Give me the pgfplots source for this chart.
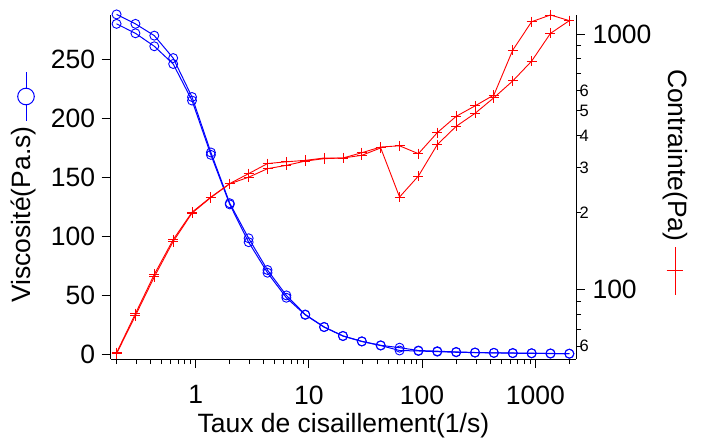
\documentclass[border=0pt]{standalone}
\usepackage{pgfplots}
\pgfplotsset{compat=1.18}
\usepackage{pgfplotstable}
\usepackage{fontspec}
\setmainfont{Liberation Sans}

\pgfplotstableread{
x       vA     vB     sA     sB
0.2     288    280    56.5   56.0
0.2936  280    272    80.4   79.0
0.4309  270    261    114.5  112
0.6325  251    246    156.6  154
0.9283  218    215    200.6  199
1.3626  171    169    230    229
2       128    127    259.7  259
2.936   98.3   95.0   284    275
4.309   71.4   69.1   311    297
6.325   49.9   47.9   316    306
9.283   33.7   33.4   320    318
13.626  23.2   23.0   327    325
20      15.6   15.4   327    327
29.36   11.0   10.8   343    335
43.09   7.6    7.4    361    358
63.25   5.6    3.2    365    230
92.83   3.2    2.8    340    278
136.26  2.6    2.2    411    369
200     2.0    1.7    476    435
293.6   1.5    1.4    523    489
430.9   1.2    1.2    577    563
632.5   1.1    0.9    865    655
928.3   0.9    0.8    1117   783
1362.6  0.7    0.6    1187   1006
2000    0.5    0.5    1128   1128
}\data

\definecolor{vred}{RGB}{255,0,0}
\definecolor{vblue}{RGB}{0,0,255}

\begin{document}
\begin{tikzpicture}
\path[use as bounding box] (0,0) rectangle (704pt,439pt);
\begin{axis}[
  at={(110.7pt,80pt)}, anchor=south west,
  scale only axis, width=465.3pt, height=344pt,
  xmode=log, xmin=0.1775, xmax=2290,
  ymin=-4, ymax=287.5,
  tick align=outside,
  major tick length=9pt, minor tick length=5pt,
  axis line style={line width=1pt, black},
  tick style={black, line width=0.9pt},
  tick label style={font=\fontsize{26.5}{31}\selectfont},
  label style={font=\fontsize{26.5}{31}\selectfont},
  xticklabel style={yshift=-14pt},
  yticklabel style={xshift=-3pt},
  clip=false,
  axis x line*=bottom, axis y line*=left,
  xtick={1,10,100,1000}, xticklabels={1,10,100,1000},
  minor xtick={0.2,0.3,0.4,0.5,0.6,0.7,0.8,0.9,2,3,4,5,6,7,8,9,20,30,40,50,60,70,80,90,200,300,400,500,600,700,800,900,2000},
  ytick={0,50,100,150,200,250},
  yticklabels={0,50,100,150,200,250},
  xlabel={Taux de cisaillement(1/s)},
  ylabel={Viscosité(Pa.s)},
  ylabel style={at={(axis description cs:-0.187,0.686)}, anchor=east},
  xlabel style={at={(axis description cs:0.5,-0.195)}, anchor=center},
]
\addplot[color=vblue, line width=1pt, mark=o, mark size=4.5pt, mark options={solid, color=vblue, line width=0.9pt}] table[x=x,y=vA] {\data};
\addplot[color=vblue, line width=1pt, mark=o, mark size=4.5pt, mark options={solid, color=vblue, line width=0.9pt}] table[x=x,y=vB] {\data};
\end{axis}
\begin{axis}[
  at={(110.7pt,80pt)}, anchor=south west,
  scale only axis, width=465.3pt, height=344pt,
  xmode=log, xmin=0.1775, xmax=2290,
  tick align=outside,
  major tick length=9pt, minor tick length=5pt,
  axis line style={line width=1pt, black},
  tick style={black, line width=0.9pt},
  tick label style={font=\fontsize{26.5}{31}\selectfont},
  label style={font=\fontsize{26.5}{31}\selectfont},
  yticklabel style={xshift=4pt},
  clip=false,
  hide x axis,
  axis y line*=right,
  ymode=log, ymin=53.4, ymax=1187,
  ytick={100,1000}, yticklabels={100,1000},
  minor ytick={70,80,90,700,800,900},
  extra y ticks={60,200,300,400,500,600},
  extra y tick labels={6,2,3,4,5,6},
  extra y tick style={major tick length=5pt, yticklabel style={font=\fontsize{16.5}{19}\selectfont, xshift=-9pt}},
  ylabel={Contrainte(Pa)},
  ylabel style={at={(axis description cs:1.2128,0.3314)}, anchor=east, rotate=180},
]
\addplot[color=vred, line width=0.9pt, mark=+, mark size=5pt, mark options={solid, color=vred, line width=0.9pt}] table[x=x,y=sA] {\data};
\addplot[color=vred, line width=0.9pt, mark=+, mark size=5pt, mark options={solid, color=vred, line width=0.9pt}] table[x=x,y=sB] {\data};
\end{axis}
% label keys
\draw[vblue, line width=1pt] (26pt,318pt) -- (26pt,367pt);
\draw[vblue, line width=1pt, fill=white] (26pt,342.5pt) circle (8.3pt);
\draw[vred, line width=1pt] (675pt,144pt) -- (675pt,192pt);
\draw[vred, line width=1pt] (666.7pt,168pt) -- (683.3pt,168pt);
\end{tikzpicture}
\end{document}
